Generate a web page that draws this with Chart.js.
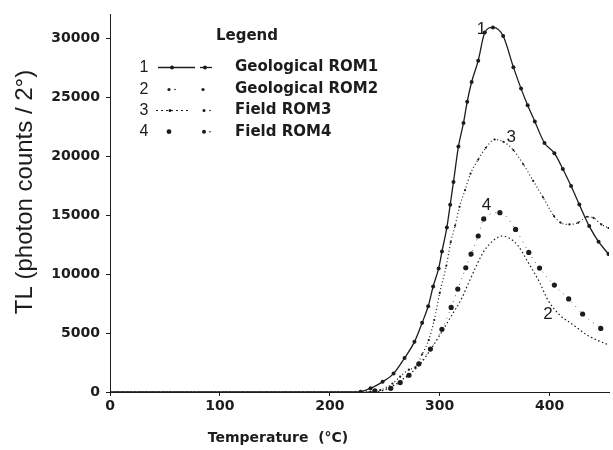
<!DOCTYPE html>
<html>
<head>
<meta charset="utf-8">
<script src="https://cdn.jsdelivr.net/npm/chart.js@4"></script>
<style>
  html, body { margin: 0; padding: 0; background: #fff; }
  #wrap { width: 613px; height: 450px; }
</style>
</head>
<body>
<div id="wrap"><canvas id="tlChart" width="613" height="450"></canvas></div>
<script>
// TL glow curves, counts per 2 degrees vs temperature
const rom1Temp = [0, 215, 222, 228, 237, 248, 258, 268, 277, 284, 289.5, 294, 299, 302, 306.5, 309.5, 312.5, 317, 321.6, 325, 329, 335, 341, 348.4, 357.7, 367, 374, 380, 386.5, 395.3, 404.3, 412, 419.5, 427, 436, 444.5, 453.5];
const rom1Counts = [0, 0, 0, 25, 310, 860, 1560, 2880, 4250, 5870, 7270, 8940, 10470, 11900, 13950, 15860, 17800, 20800, 22800, 24600, 26270, 28080, 30460, 30900, 30170, 27530, 25710, 24300, 22930, 21100, 20240, 18900, 17450, 15880, 14060, 12740, 11700];

const rom2Temp = [0, 225, 243, 255, 265, 275, 282.4, 293, 300.5, 309.5, 320, 326, 333.5, 339.5, 345, 351, 357, 364, 371.3, 380.3, 390.8, 398.4, 408.9, 421, 433, 443, 453.5];
const rom2Counts = [0, 0, 25, 400, 1000, 1700, 2390, 3780, 4890, 6280, 7940, 9190, 10720, 11830, 12500, 13000, 13220, 13000, 12390, 11000, 9300, 7800, 6550, 5720, 4890, 4400, 4000];

const rom3Temp = [0, 225, 237, 246, 257, 264, 272, 278, 284, 290, 295, 300, 306, 310, 314, 318, 323, 328, 335, 342, 350, 358, 367, 376, 385, 394, 404, 410, 418, 426, 434, 440, 447, 453.5];
const rom3Counts = [0, 0, 25, 170, 720, 1300, 1900, 2100, 3200, 4400, 6100, 8400, 10700, 12700, 14100, 15700, 17100, 18500, 19700, 20700, 21400, 21200, 20500, 19300, 17900, 16500, 14900, 14350, 14200, 14350, 14850, 14750, 14200, 13900];

const rom4Temp = [0, 230, 241, 255.4, 264, 272, 281, 291.5, 302, 310.4, 316.4, 323.7, 328.5, 335, 340, 354.7, 369, 381, 390.8, 404.3, 417.3, 430, 446.5];
const rom4Counts = [0, 0, 100, 310, 800, 1420, 2390, 3640, 5310, 7170, 8720, 10530, 11690, 13220, 14670, 15200, 13780, 11830, 10500, 9060, 7890, 6610, 5390];

const seriesNames = ['Geological ROM1', 'Geological ROM2', 'Field ROM3', 'Field ROM4'];
const xTicks = [0, 100, 200, 300, 400];
const yTicks = [0, 5000, 10000, 15000, 20000, 25000, 30000];

// curve numbers placed next to each peak (data units)
const tagText = ['1', '2', '3', '4'];
const tagTemp = [338, 398.4, 365, 342.6];
const tagCounts = [30750, 6580, 21580, 15830];

const ink = '#1c1c1c';

function toPoints(xs, ys) {
    return xs.map((x, i) => ({ x: x, y: ys[i] }));
}

function markerSize(r) {
    return ctx => (ctx.raw && ctx.raw.y > 0 ? r : 0);
}

const extras = {
    id: 'extras',
    afterDraw(chart) {
        const c = chart.ctx;
        const xs = chart.scales.x, ys = chart.scales.y;
        c.save();
        c.fillStyle = ink;
        c.strokeStyle = ink;

        // axis titles
        c.font = 'bold 14px "DejaVu Sans"';
        c.textAlign = 'center';
        c.textBaseline = 'middle';
        c.fillText('Temperature  (°C)', 278, 438);

        c.save();
        c.translate(25, 192);
        c.rotate(-Math.PI / 2);
        c.font = '24px "Liberation Sans"';
        c.fillText('TL (photon counts / 2°)', 0, 0);
        c.restore();

        // curve numbers
        c.font = '17px "Liberation Sans"';
        tagText.forEach((t, i) => {
            c.fillText(t, xs.getPixelForValue(tagTemp[i]), ys.getPixelForValue(tagCounts[i]));
        });

        // legend box
        c.font = 'bold 15px "DejaVu Sans"';
        c.fillText('Legend', 247, 36);
        const rows = [67.5, 89.5, 110.5, 131.7];
        const dot = (x, y, r) => { c.beginPath(); c.arc(x, y, r, 0, Math.PI * 2); c.fill(); };
        rows.forEach((y, i) => {
            c.font = '16px "Liberation Sans"';
            c.textAlign = 'center';
            c.fillText(String(i + 1), 144, y);
            c.font = 'bold 15px "DejaVu Sans"';
            c.textAlign = 'left';
            c.fillText(seriesNames[i], 235, y);
        });
        // row 1: solid with markers
        c.lineWidth = 1.3;
        c.beginPath(); c.moveTo(158, rows[0]); c.lineTo(195, rows[0]); c.stroke();
        c.beginPath(); c.moveTo(200, rows[0]); c.lineTo(212, rows[0]); c.stroke();
        dot(172, rows[0], 2); dot(205, rows[0], 2);
        // row 2: dash-dot
        dot(169, rows[1], 1.6); dot(175, rows[1], 0.8); dot(203, rows[1], 1.6);
        // row 3: dotted
        c.setLineDash([2, 3]);
        c.lineWidth = 1.1;
        c.beginPath(); c.moveTo(156, rows[2]); c.lineTo(190, rows[2]); c.stroke();
        c.setLineDash([]);
        dot(170, rows[2], 1.5); dot(204, rows[2], 1.5); dot(210, rows[2], 0.8);
        // row 4: big dots
        dot(169, rows[3], 2.4); dot(204, rows[3], 2); dot(210, rows[3], 0.8);
        c.restore();
    }
};

const ctxTL = document.getElementById('tlChart').getContext('2d');
const tlChart = new Chart(ctxTL, {
    type: 'line',
    data: {
        datasets: [{
            label: seriesNames[0],
            data: toPoints(rom1Temp, rom1Counts),
            borderColor: ink,
            backgroundColor: ink,
            borderWidth: 1.3,
            pointRadius: markerSize(2),
            pointBorderWidth: 0,
            cubicInterpolationMode: 'monotone'
        }, {
            label: seriesNames[1],
            data: toPoints(rom2Temp, rom2Counts),
            borderColor: ink,
            backgroundColor: ink,
            borderWidth: 1.2,
            borderDash: [1.5, 2.5],
            pointRadius: 0,
            cubicInterpolationMode: 'monotone'
        }, {
            label: seriesNames[2],
            data: toPoints(rom3Temp, rom3Counts),
            borderColor: ink,
            backgroundColor: ink,
            borderWidth: 1.2,
            borderDash: [1, 2.5],
            pointRadius: markerSize(1.1),
            pointBorderWidth: 0,
            cubicInterpolationMode: 'monotone'
        }, {
            label: seriesNames[3],
            data: toPoints(rom4Temp, rom4Counts),
            borderColor: 'rgba(28,28,28,0.7)',
            backgroundColor: ink,
            borderWidth: 1,
            borderDash: [1, 5],
            pointRadius: markerSize(2.6),
            pointBorderWidth: 0,
            cubicInterpolationMode: 'monotone'
        }]
    },
    options: {
        responsive: false,
        animation: false,
        layout: { padding: { left: 0, right: 0, top: 8, bottom: 0 } },
        plugins: {
            legend: { display: false },
            tooltip: { enabled: false }
        },
        scales: {
            x: {
                type: 'linear',
                min: 0,
                max: 454,
                afterBuildTicks: scale => { scale.ticks = xTicks.map(v => ({ value: v })); },
                afterFit: scale => { scale.height = 58; },
                border: { display: true, color: ink, width: 1 },
                grid: { display: true, drawOnChartArea: false, tickLength: 4, color: ink },
                ticks: {
                    padding: 2,
                    color: ink,
                    font: { family: 'DejaVu Sans', size: 14, weight: 'bold' },
                    maxRotation: 0,
                    callback: v => String(v)
                }
            },
            y: {
                min: 0,
                max: 32000,
                afterBuildTicks: scale => { scale.ticks = yTicks.map(v => ({ value: v })); },
                afterFit: scale => { scale.width = 110; },
                border: { display: true, color: ink, width: 1 },
                grid: { display: true, drawOnChartArea: false, tickLength: 4, color: ink },
                ticks: {
                    padding: 6,
                    color: ink,
                    font: { family: 'DejaVu Sans', size: 14, weight: 'bold' },
                    callback: v => String(v)
                }
            }
        }
    },
    plugins: [extras]
});
</script>
</body>
</html>
